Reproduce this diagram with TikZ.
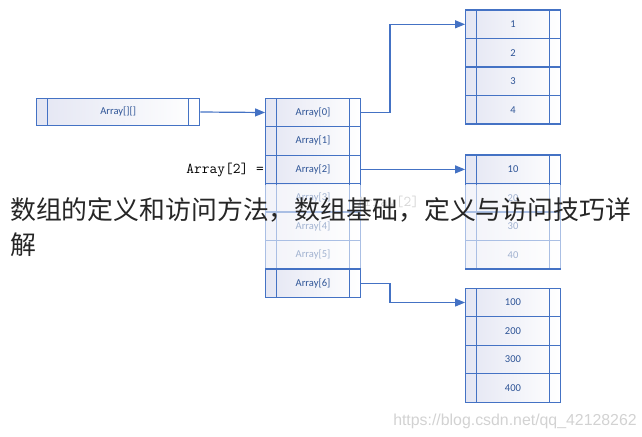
\documentclass[tikz,border=0pt]{standalone}
\usepackage{fontspec}
\newfontfamily\cjk{Noto Sans CJK SC}
\newfontfamily\lblfont{Carlito}
\newfontfamily\wmfont{Liberation Sans}
\usetikzlibrary{arrows.meta}
\definecolor{cellblue}{RGB}{68,114,196}
\definecolor{textblue}{RGB}{47,85,151}
\definecolor{cellshade}{RGB}{228,230,243}
\tikzset{
 cell/.style={draw=cellblue, line width=0.9pt, left color=cellshade, right color=white,
   minimum width=71pt, minimum height=21.375pt, inner sep=0pt, text=textblue,
   font=\lblfont\fontsize{7.9}{9}\selectfont,
   path picture={\draw[cellblue, line width=0.9pt]
     ([xshift=8.25pt]path picture bounding box.north west) -- ([xshift=8.25pt]path picture bounding box.south west)
     ([xshift=-8.25pt]path picture bounding box.north east) -- ([xshift=-8.25pt]path picture bounding box.south east);}},
 wide/.style={minimum width=122.25pt, minimum height=20.6pt},
 link/.style={draw=cellblue, line width=0.9pt, -{Triangle[length=7.5pt,width=6pt]}},
 monotext/.style={inner sep=0pt, font=\ttfamily\fontsize{11.25}{13}\selectfont},
 cjktext/.style={anchor=west, inner sep=0pt, font=\cjk\fontsize{19.4}{24}\selectfont, text=black!85},
}
\begin{document}
\begin{tikzpicture}[x=0.75pt,y=-0.75pt]
\useasboundingbox (0,0) rectangle (642,436);
% outer array
\node[cell,wide] (arr) at (118.2,112) {Array[][]};
% middle column
\foreach \i in {0,...,6}{
  \node[cell] (m\i) at (313,{112.5+28.45*\i}) {Array[\i]};
}
% right columns
\foreach \v [count=\k from 0] in {1,2,3,4}{
  \node[cell] (t\v) at (513,{24.3+28.5*\k}) {\v};
}
\foreach \v [count=\k from 1] in {10,20,30,40}{
  \node[cell] (c\k) at (513,{169.25+28.5*(\k-1)}) {\v};
}
\foreach \v [count=\k from 1] in {100,200,300,400}{
  \node[cell] (b\k) at (513,{302.5+28.5*(\k-1)}) {\v};
}
% connectors
\draw[link] (arr.east) -- (m0.west);
\draw[link] (m0.east) -- ++(29,0) |- (t1.west);
\draw[link] (m2.east) -- (m2.east -| c1.west);
\draw[link] (m6.east) -- ++(29,0) |- (b1.west);
% texts
\node[monotext, anchor=east] (lbl) at (264,169.5) {Array[2] =};
\node[monotext, anchor=west, text=gray!70] (ghost) at (357,203) {Array[2] =};
% faded band
\fill[white, opacity=0.55] (0,185) rectangle (642,268);
% title overlay
\node[cjktext] (ttl1) at (10,210) {数组的定义和访问方法，数组基础，定义与访问技巧详};
\node[cjktext] (ttl2) at (10,245) {解};
% watermark
\node[anchor=east, inner sep=0pt, font=\wmfont\fontsize{11.9}{14}\selectfont, text=gray!35] (wm) at (637,421) {https://blog.csdn.net/qq\_42128262};
\end{tikzpicture}
\end{document}
